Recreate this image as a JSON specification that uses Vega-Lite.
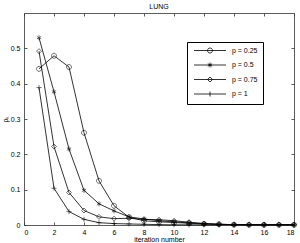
{
  "$schema": "https://vega.github.io/schema/vega-lite/v6.json",
  "width": 270,
  "height": 212,
  "autosize": {"type": "none"},
  "padding": {"left": 24, "top": 13, "right": 6, "bottom": 18},
  "title": {"text": "LUNG", "fontSize": 7, "font": "Liberation Sans", "fontWeight": "normal", "offset": 3, "color": "#000"},
  "config": {
    "view": {"stroke": null},
    "axis": {
      "labelFont": "Liberation Sans", "labelFontSize": 7, "labelColor": "#000",
      "titleFont": "Liberation Sans", "titleFontSize": 7, "titleFontWeight": "normal", "titleColor": "#000",
      "domainColor": "#333", "tickColor": "#333", "domainWidth": 0.8, "tickWidth": 0.8,
      "tickSize": -3, "labelPadding": 7, "grid": false
    }
  },
  "data": {"values": [
    {"it": 1, "v": 0.442, "p": "p = 0.25"}, {"it": 2, "v": 0.479, "p": "p = 0.25"}, {"it": 3, "v": 0.447, "p": "p = 0.25"},
    {"it": 4, "v": 0.261, "p": "p = 0.25"}, {"it": 5, "v": 0.125, "p": "p = 0.25"}, {"it": 6, "v": 0.0545, "p": "p = 0.25"},
    {"it": 7, "v": 0.022, "p": "p = 0.25"}, {"it": 8, "v": 0.012, "p": "p = 0.25"}, {"it": 9, "v": 0.009, "p": "p = 0.25"},
    {"it": 10, "v": 0.007, "p": "p = 0.25"}, {"it": 11, "v": 0.005, "p": "p = 0.25"}, {"it": 12, "v": 0.003, "p": "p = 0.25"},
    {"it": 13, "v": 0.002, "p": "p = 0.25"}, {"it": 14, "v": 0.001, "p": "p = 0.25"}, {"it": 15, "v": 0.0005, "p": "p = 0.25"},
    {"it": 16, "v": 0.0005, "p": "p = 0.25"}, {"it": 17, "v": 0.0005, "p": "p = 0.25"}, {"it": 18, "v": 0.0005, "p": "p = 0.25"},
    {"it": 1, "v": 0.530, "p": "p = 0.5"}, {"it": 2, "v": 0.377, "p": "p = 0.5"}, {"it": 3, "v": 0.215, "p": "p = 0.5"},
    {"it": 4, "v": 0.098, "p": "p = 0.5"}, {"it": 5, "v": 0.060, "p": "p = 0.5"}, {"it": 6, "v": 0.040, "p": "p = 0.5"},
    {"it": 7, "v": 0.023, "p": "p = 0.5"}, {"it": 8, "v": 0.017, "p": "p = 0.5"}, {"it": 9, "v": 0.012, "p": "p = 0.5"},
    {"it": 10, "v": 0.009, "p": "p = 0.5"}, {"it": 11, "v": 0.006, "p": "p = 0.5"}, {"it": 12, "v": 0.004, "p": "p = 0.5"},
    {"it": 13, "v": 0.002, "p": "p = 0.5"}, {"it": 14, "v": 0.001, "p": "p = 0.5"}, {"it": 15, "v": 0.0005, "p": "p = 0.5"},
    {"it": 16, "v": 0.0005, "p": "p = 0.5"}, {"it": 17, "v": 0.0005, "p": "p = 0.5"}, {"it": 18, "v": 0.0005, "p": "p = 0.5"},
    {"it": 1, "v": 0.492, "p": "p = 0.75"}, {"it": 2, "v": 0.222, "p": "p = 0.75"}, {"it": 3, "v": 0.092, "p": "p = 0.75"},
    {"it": 4, "v": 0.041, "p": "p = 0.75"}, {"it": 5, "v": 0.023, "p": "p = 0.75"}, {"it": 6, "v": 0.018, "p": "p = 0.75"},
    {"it": 7, "v": 0.019, "p": "p = 0.75"}, {"it": 8, "v": 0.016, "p": "p = 0.75"}, {"it": 9, "v": 0.015, "p": "p = 0.75"},
    {"it": 10, "v": 0.012, "p": "p = 0.75"}, {"it": 11, "v": 0.008, "p": "p = 0.75"}, {"it": 12, "v": 0.004, "p": "p = 0.75"},
    {"it": 13, "v": 0.002, "p": "p = 0.75"}, {"it": 14, "v": 0.001, "p": "p = 0.75"}, {"it": 15, "v": 0.001, "p": "p = 0.75"},
    {"it": 16, "v": 0.001, "p": "p = 0.75"}, {"it": 17, "v": 0.001, "p": "p = 0.75"}, {"it": 18, "v": 0.001, "p": "p = 0.75"},
    {"it": 1, "v": 0.389, "p": "p = 1"}, {"it": 2, "v": 0.104, "p": "p = 1"}, {"it": 3, "v": 0.038, "p": "p = 1"},
    {"it": 4, "v": 0.016, "p": "p = 1"}, {"it": 5, "v": 0.0065, "p": "p = 1"}, {"it": 6, "v": 0.004, "p": "p = 1"},
    {"it": 7, "v": 0.003, "p": "p = 1"}, {"it": 8, "v": 0.002, "p": "p = 1"}, {"it": 9, "v": 0.001, "p": "p = 1"},
    {"it": 10, "v": 0.0005, "p": "p = 1"}, {"it": 11, "v": 0.0005, "p": "p = 1"}, {"it": 12, "v": 0.0005, "p": "p = 1"},
    {"it": 13, "v": 0.0005, "p": "p = 1"}, {"it": 14, "v": 0.0005, "p": "p = 1"}, {"it": 15, "v": 0.0005, "p": "p = 1"},
    {"it": 16, "v": 0.0005, "p": "p = 1"}, {"it": 17, "v": 0.0005, "p": "p = 1"}, {"it": 18, "v": 0.0005, "p": "p = 1"}
  ]},
  "layer": [
    {
      "mark": {"type": "line", "color": "#000", "strokeWidth": 0.8},
      "encoding": {
        "x": {"field": "it", "type": "quantitative", "scale": {"domain": [0, 18], "nice": false},
              "axis": {"title": "iteration number", "values": [0, 2, 4, 6, 8, 10, 12, 14, 16, 18], "labelPadding": 6, "titlePadding": 0}},
        "y": {"field": "v", "type": "quantitative", "scale": {"domain": [0, 0.6], "nice": false},
              "axis": {"title": "ρₖ", "values": [0, 0.1, 0.2, 0.3, 0.4, 0.5], "format": "~g", "titlePadding": 2}},
        "detail": {"field": "p", "type": "nominal"}
      }
    },
    {
      "mark": {"type": "point", "filled": false, "strokeWidth": 0.8, "size": 25, "color": "#000"},
      "encoding": {
        "x": {"field": "it", "type": "quantitative", "axis": null},
        "y": {"field": "v", "type": "quantitative", "axis": null},
        "shape": {"field": "p", "type": "nominal",
          "scale": {"domain": ["p = 0.25", "p = 0.5", "p = 0.75", "p = 1"],
                    "range": ["M-1,0A1,1 0 1,0 1,0A1,1 0 1,0 -1,0Z", "M0,-1V1M-0.87,-0.5L0.87,0.5M-0.87,0.5L0.87,-0.5", "M0,-1L1,0L0,1L-1,0Z", "M-1,0H1M0,-1V1"]},
          "legend": null
        }
      }
    },
    {
      "mark": {"type": "point", "opacity": 0, "filled": false, "size": 25, "color": "#000", "strokeWidth": 0.8},
      "encoding": {
        "x": {"field": "it", "type": "quantitative", "axis": {"orient": "top", "labels": false, "title": null, "values": [0, 2, 4, 6, 8, 10, 12, 14, 16, 18]}},
        "y": {"field": "v", "type": "quantitative", "axis": {"orient": "right", "labels": false, "title": null, "values": [0, 0.1, 0.2, 0.3, 0.4, 0.5]}},
        "shape": {"field": "p", "type": "nominal",
          "scale": {"domain": ["p = 0.25", "p = 0.5", "p = 0.75", "p = 1"],
                    "range": ["M-6.4,0H6.4M-1,0A1,1 0 1,0 1,0A1,1 0 1,0 -1,0Z", "M-6.4,0H6.4M0,-1V1M-0.87,-0.5L0.87,0.5M-0.87,0.5L0.87,-0.5", "M-6.4,0H6.4M0,-1L1,0L0,1L-1,0Z", "M-6.4,0H6.4M0,-1V1"]},
          "legend": {
            "orient": "none", "legendX": 163, "legendY": 29, "title": null,
            "padding": 5, "strokeColor": "#000", "fillColor": "#fff",
            "symbolOffset": 14.5, "labelOffset": 18.5, "symbolSize": 25, "symbolStrokeWidth": 0.8, "symbolOpacity": 1,
            "symbolFillColor": "transparent", "symbolStrokeColor": "#000", "rowPadding": 5.5,
            "labelFontSize": 7, "labelFont": "Liberation Sans", "labelColor": "#000",
            "labelExpr": "datum.label + '\u00a0\u00a0\u00a0\u00a0\u00a0\u00a0\u00a0\u00a0'"
          }
        }
      }
    }
  ],
  "resolve": {"axis": {"x": "independent", "y": "independent"}, "scale": {"shape": "independent"}}
}
